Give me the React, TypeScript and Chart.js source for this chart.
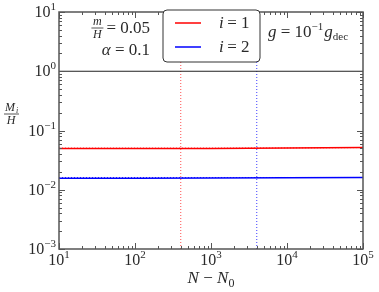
import React, { useEffect, useRef } from "react";
import { Chart, registerables } from "chart.js";

Chart.register(...registerables);

const stepsN = [10, 100, 1000, 10000, 100000];
const massI1 = [0.0495, 0.0496, 0.0498, 0.0507, 0.0515];
const massI2 = [0.0157, 0.0157, 0.0158, 0.016, 0.0161];
const estI1 = [0.0505, 0.0505, 0.0505, 0.0508, 0.0515];
const estI2 = [0.0161, 0.0161, 0.0161, 0.0161, 0.0161];
const markerI1 = 400;
const markerI2 = 4000;
const refLevel = 1;
const xTickExps = [1, 2, 3, 4, 5];
const yTickExps = [-3, -2, -1, 0, 1];
const legendLabels = ["i = 1", "i = 2"];
const seriesColors = ["#ff0000", "#0000ff"];

const SERIF = '"Liberation Serif"';
const INK = "#2a2a2a";

function drawPow(ctx: CanvasRenderingContext2D, exp: number, x: number, y: number, align: "right" | "center") {
  const base = "10";
  const e = exp < 0 ? "\u2212" + Math.abs(exp) : String(exp);
  ctx.font = `16px ${SERIF}`;
  const bw = ctx.measureText(base).width;
  ctx.font = `11px ${SERIF}`;
  const ew = ctx.measureText(e).width;
  const total = bw + ew;
  const sx = align === "right" ? x - total : x - total / 2;
  ctx.fillStyle = INK;
  ctx.textAlign = "left";
  ctx.textBaseline = "alphabetic";
  ctx.font = `16px ${SERIF}`;
  ctx.fillText(base, sx, y);
  ctx.font = `11px ${SERIF}`;
  ctx.fillText(e, sx + bw, y - 7);
}

const decorPlugin = {
  id: "decor",
  afterDatasetsDraw(chart: any) {
    const { ctx, chartArea } = chart;
    const { left, right, top, bottom } = chartArea;
    const xs = chart.scales.x;
    const ys = chart.scales.y;
    ctx.save();
    // frame
    ctx.strokeStyle = "#555";
    ctx.lineWidth = 1.5;
    ctx.strokeRect(left, top, right - left, bottom - top);
    // ticks
    ctx.lineWidth = 1;
    ctx.strokeStyle = "#555";
    ctx.beginPath();
    for (let d = 1; d <= 5; d++) {
      for (let m = 1; m <= 9; m++) {
        const v = m * Math.pow(10, d);
        if (v > 1e5) break;
        const px = Math.round(xs.getPixelForValue(v)) + 0.5;
        const len = m === 1 ? 6 : 3;
        ctx.moveTo(px, bottom);
        ctx.lineTo(px, bottom - len);
        ctx.moveTo(px, top);
        ctx.lineTo(px, top + len);
      }
    }
    for (let d = -3; d <= 1; d++) {
      for (let m = 1; m <= 9; m++) {
        const v = m * Math.pow(10, d);
        if (v > 10.0001) break;
        const py = Math.round(ys.getPixelForValue(v)) + 0.5;
        const len = m === 1 ? 6 : 3;
        ctx.moveTo(left, py);
        ctx.lineTo(left + len, py);
        ctx.moveTo(right, py);
        ctx.lineTo(right - len, py);
      }
    }
    ctx.stroke();
    // tick labels
    xTickExps.forEach((e) => {
      drawPow(ctx, e, xs.getPixelForValue(Math.pow(10, e)), bottom + 16, "center");
    });
    yTickExps.forEach((e) => {
      drawPow(ctx, e, left - 3, ys.getPixelForValue(Math.pow(10, e)) + 5, "right");
    });
    // x title
    ctx.fillStyle = INK;
    ctx.textAlign = "left";
    ctx.font = `italic 17px ${SERIF}`;
    const w1 = ctx.measureText("N").width;
    ctx.font = `17px ${SERIF}`;
    const w2 = ctx.measureText(" \u2212 ").width;
    ctx.font = `12px ${SERIF}`;
    const w4 = ctx.measureText("0").width;
    const tw = w1 * 2 + w2 + w4;
    const sx = (left + right) / 2 - tw / 2;
    const ty = bottom + 34;
    ctx.font = `italic 17px ${SERIF}`;
    ctx.fillText("N", sx, ty);
    ctx.font = `17px ${SERIF}`;
    ctx.fillText(" \u2212 ", sx + w1, ty);
    ctx.font = `italic 17px ${SERIF}`;
    ctx.fillText("N", sx + w1 + w2, ty);
    ctx.font = `12px ${SERIF}`;
    ctx.fillText("0", sx + 2 * w1 + w2, ty + 4);
    // y title fraction M_i / H
    const fx = 11;
    const fy = 114;
    ctx.font = `italic 12px ${SERIF}`;
    ctx.textAlign = "center";
    ctx.fillText("M", fx - 1, fy - 3);
    ctx.font = `italic 8px ${SERIF}`;
    ctx.fillText("i", fx + 6, fy - 1);
    ctx.strokeStyle = INK;
    ctx.lineWidth = 0.8;
    ctx.beginPath();
    ctx.moveTo(fx - 7, fy);
    ctx.lineTo(fx + 8, fy);
    ctx.stroke();
    ctx.font = `italic 12px ${SERIF}`;
    ctx.fillText("H", fx, fy + 10);

    // annotation: m/H = 0.05
    const ax = 150;
    ctx.textAlign = "right";
    ctx.font = `17px ${SERIF}`;
    ctx.fillText("= 0.05", ax, top + 21);
    const eqw = ctx.measureText("= 0.05").width;
    const cx = ax - eqw - 9;
    ctx.textAlign = "center";
    ctx.font = `italic 12px ${SERIF}`;
    ctx.fillText("m", cx, top + 13);
    ctx.beginPath();
    ctx.moveTo(cx - 6, top + 16);
    ctx.lineTo(cx + 6, top + 16);
    ctx.stroke();
    ctx.fillText("H", cx, top + 26);
    ctx.textAlign = "right";
    ctx.font = `17px ${SERIF}`;
    ctx.fillText("= 0.1", ax, top + 43);
    const w01 = ctx.measureText("= 0.1").width;
    ctx.font = `italic 17px ${SERIF}`;
    ctx.fillText("\u03b1 ", ax - w01, top + 43);

    // annotation: g = 10^-1 g_dec
    let gx = 268;
    const gy = top + 25;
    ctx.textAlign = "left";
    ctx.font = `italic 17px ${SERIF}`;
    ctx.fillText("g", gx, gy);
    gx += ctx.measureText("g").width;
    ctx.font = `17px ${SERIF}`;
    ctx.fillText(" = 10", gx, gy);
    gx += ctx.measureText(" = 10").width;
    ctx.font = `11px ${SERIF}`;
    ctx.fillText("\u22121", gx, gy - 7);
    gx += ctx.measureText("\u22121").width + 1;
    ctx.font = `italic 17px ${SERIF}`;
    ctx.fillText("g", gx, gy);
    gx += ctx.measureText("g").width;
    ctx.font = `11px ${SERIF}`;
    ctx.fillText("dec", gx, gy + 3);

    // legend
    const lx = 163, ly = top - 2, lw = 97, lh = 52, r = 4;
    ctx.fillStyle = "#fff";
    ctx.strokeStyle = "#333";
    ctx.lineWidth = 1;
    ctx.beginPath();
    ctx.moveTo(lx + r, ly);
    ctx.lineTo(lx + lw - r, ly);
    ctx.quadraticCurveTo(lx + lw, ly, lx + lw, ly + r);
    ctx.lineTo(lx + lw, ly + lh - r);
    ctx.quadraticCurveTo(lx + lw, ly + lh, lx + lw - r, ly + lh);
    ctx.lineTo(lx + r, ly + lh);
    ctx.quadraticCurveTo(lx, ly + lh, lx, ly + lh - r);
    ctx.lineTo(lx, ly + r);
    ctx.quadraticCurveTo(lx, ly, lx + r, ly);
    ctx.closePath();
    ctx.fill();
    ctx.stroke();
    legendLabels.forEach((lab, i) => {
      const yy = ly + 13 + i * 24;
      ctx.strokeStyle = seriesColors[i];
      ctx.lineWidth = 1.5;
      ctx.beginPath();
      ctx.moveTo(lx + 12, yy);
      ctx.lineTo(lx + 38, yy);
      ctx.stroke();
      ctx.fillStyle = INK;
      ctx.textAlign = "left";
      ctx.font = `italic 17px ${SERIF}`;
      ctx.fillText("i", lx + 56, yy + 5);
      ctx.font = `17px ${SERIF}`;
      ctx.fillText(lab.slice(1), lx + 56 + 4, yy + 5);
    });
    ctx.restore();
  },
};

export default function App() {
  const ref = useRef<HTMLCanvasElement>(null);
  useEffect(() => {
    document.body.style.margin = "0";
    const pts = (ys: number[]) => stepsN.map((x, i) => ({ x, y: ys[i] }));
    const chart = new Chart(ref.current!, {
      type: "line",
      data: {
        datasets: [
          { data: [{ x: stepsN[0], y: refLevel }, { x: stepsN[stepsN.length - 1], y: refLevel }], borderColor: "#222", borderWidth: 1, pointRadius: 0 },
          { data: [{ x: markerI1, y: 1e-3 }, { x: markerI1, y: 10 }], borderColor: "rgba(255,60,60,0.9)", borderWidth: 1, borderDash: [1, 2], pointRadius: 0 },
          { data: [{ x: markerI2, y: 1e-3 }, { x: markerI2, y: 10 }], borderColor: "rgba(40,40,255,0.9)", borderWidth: 1, borderDash: [1, 2], pointRadius: 0 },
          { data: pts(massI1), borderColor: "#ff0000", borderWidth: 1.5, pointRadius: 0 },
          { data: pts(massI2), borderColor: "#0000ff", borderWidth: 1.5, pointRadius: 0 },
          { data: pts(estI1), borderColor: "rgba(255,0,0,0.8)", borderWidth: 1, borderDash: [1, 2], pointRadius: 0 },
          { data: pts(estI2), borderColor: "rgba(0,0,255,0.8)", borderWidth: 1, borderDash: [1, 2], pointRadius: 0 },
        ],
      },
      options: {
        animation: false,
        responsive: false,
        layout: { padding: { left: 59, right: 16, top: 12, bottom: 43 } },
        plugins: { legend: { display: false }, tooltip: { enabled: false } },
        scales: {
          x: { type: "logarithmic", min: 10, max: 1e5, display: false },
          y: { type: "logarithmic", min: 1e-3, max: 10, display: false },
        },
      },
      plugins: [decorPlugin],
    });
    return () => chart.destroy();
  }, []);
  return (
    <div style={{ width: 379, height: 292 }}>
      <canvas ref={ref} width={379} height={292} style={{ display: "block" }} />
    </div>
  );
}
